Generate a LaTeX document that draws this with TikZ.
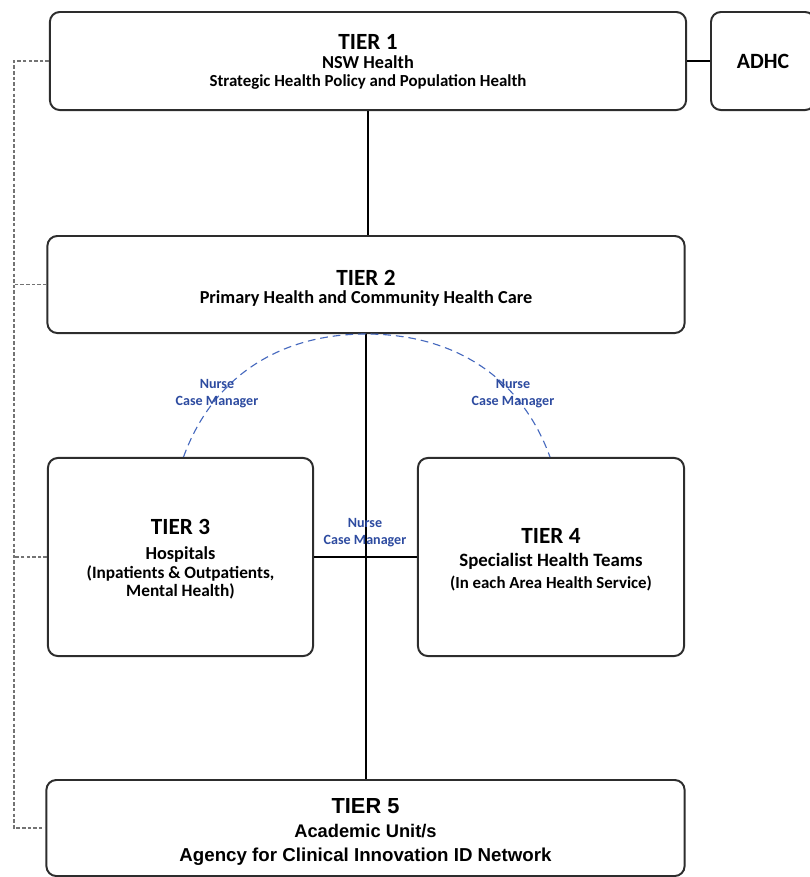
\documentclass[tikz,border=0pt]{standalone}
\usepackage{fontspec}
\setmainfont{Carlito}
\newfontfamily\arialfont{Liberation Sans}
\usetikzlibrary{calc}
\definecolor{boxline}{RGB}{45,45,45}
\definecolor{nurseblue}{RGB}{45,75,160}
\definecolor{arcblue}{RGB}{70,105,190}
\begin{document}
\begin{tikzpicture}[x=0.025cm,y=-0.025cm,
    tier/.style={draw=boxline,line width=1.4pt,rounded corners=7pt,align=center,inner sep=0pt,font=\bfseries},
    link/.style={line width=1.1pt,black},
    rail/.style={black!55,line width=0.8pt,dash pattern=on 2.5pt off 1.5pt},
    nurse/.style={align=center,text=nurseblue,font=\bfseries\fontsize{10}{12}\selectfont}]
\useasboundingbox (0,0) rectangle (810,877);

\node[tier,minimum width=15.9cm,minimum height=2.45cm] (t1) at (368,61) {
    {\fontsize{16.5}{18}\selectfont\rule{0pt}{12pt}TIER 1}\\[1.5pt]
    {\fontsize{13}{14}\selectfont NSW Health}\\[1.4pt]
    {\fontsize{12}{13}\selectfont Strategic Health Policy and Population Health}};
\node[tier,minimum width=2.6cm,minimum height=2.45cm] (adhc) at (763,61) {\fontsize{15.5}{17}\selectfont ADHC};

\node[tier,minimum width=15.925cm,minimum height=2.425cm] (t2) at (366,284.5) {
    {\fontsize{16.5}{18}\selectfont\rule{0pt}{16.3pt}TIER 2}\\[1pt]
    {\fontsize{13}{15}\selectfont Primary Health and Community Health Care}};

\node[tier,minimum width=6.625cm,minimum height=4.95cm] (t3) at (180.5,557) {
    {\fontsize{16.5}{18}\selectfont\rule{0pt}{14.1pt}TIER 3}\\[5.7pt]
    {\fontsize{13}{15}\selectfont Hospitals}\\[1.2pt]
    {\fontsize{12.3}{14}\selectfont (Inpatients \& Outpatients,}\\[1pt]
    {\fontsize{12.3}{14}\selectfont Mental Health)}};

\node[tier,minimum width=6.65cm,minimum height=4.95cm] (t4) at (551,557) {
    {\fontsize{16.5}{18}\selectfont\rule{0pt}{14.9pt}TIER 4}\\[4.3pt]
    {\fontsize{13.4}{15}\selectfont Specialist Health Teams}\\[3.3pt]
    {\fontsize{12}{14}\selectfont (In each Area Health Service)}};

\node[tier,minimum width=15.95cm,minimum height=2.4cm] (t5) at (365.5,828) {
    {\arialfont\fontsize{15.5}{17}\selectfont\rule{0pt}{16.8pt}TIER 5}\\[5.2pt]
    {\arialfont\fontsize{13}{15}\selectfont Academic Unit/s}\\[5pt]
    {\arialfont\fontsize{13.3}{15}\selectfont Agency for Clinical Innovation ID Network}};

\coordinate (railx) at (14,0);

\draw [link] (t1.east) to (adhc.west);
\draw [link] (t1.south) to (t1.south |- t2.north);
\draw [link] (t2.south) to (t2.south |- t5.north);
\draw [link] (t3.east) to (t4.west);

\draw [rail] (t1.west) -- (t1.west -| railx) |- (t5.west);
\draw [rail] (t2.west) -- (t2.west -| railx);
\draw [rail] (t3.west) -- (t3.west -| railx);

\draw [arcblue,line width=0.8pt,dash pattern=on 5.5pt off 3.5pt]
    ($(t3.north)+(3,0)$) to[out=70,in=180] (t2.south) to[out=0,in=110] ($(t4.north)+(-1,0)$);

\node[nurse] (ncm1) at (217,394) {Nurse\\Case Manager};
\node[nurse] (ncm2) at (513,394) {Nurse\\Case Manager};
\node[nurse] (ncm3) at (365,533) {Nurse\\Case Manager};
\end{tikzpicture}
\end{document}
